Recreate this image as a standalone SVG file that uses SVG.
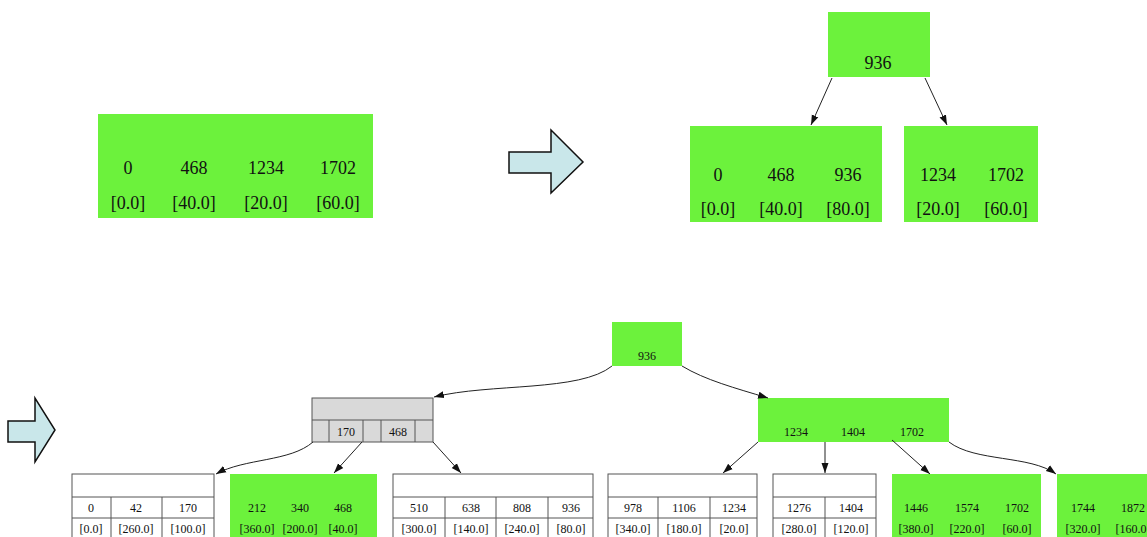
<svg xmlns="http://www.w3.org/2000/svg" width="1147" height="537" viewBox="0 0 1147 537">
<style>
  .g { fill: #6cf23c; stroke: none; }
  .w { fill: #ffffff; stroke: #555555; stroke-width: 1; }
  .gr { fill: #d9d9d9; stroke: #555555; stroke-width: 1; }
  .big { font-family: "Liberation Serif", serif; font-size: 18px; fill: #111; text-anchor: middle; }
  .sm { font-family: "Liberation Serif", serif; font-size: 12px; fill: #111; text-anchor: middle; }
  .edge { fill: none; stroke: #222; stroke-width: 1; }
  .bigarrow { fill: #c9e7ea; stroke: #111; stroke-width: 1.5; }
</style>
<defs>
  <marker id="ah" viewBox="0 0 10 10" refX="10" refY="5" markerWidth="10" markerHeight="10" markerUnits="userSpaceOnUse" orient="auto">
    <path d="M0,1.5 L10,5 L0,8.5 Z" fill="#111"/>
  </marker>
</defs>
<rect width="1147" height="537" fill="#ffffff"/>

<!-- big arrows -->
<g id="bigarrow1">
  <polygon class="bigarrow" points="509,152 551,152 551,130 583,162 551,193 551,173 509,173"/>
</g>
<g id="bigarrow2">
  <polygon class="bigarrow" points="8,421 35,421 35,398 55,430 35,462 35,442 8,442"/>
</g>

<!-- top-left node -->
<g id="n_top_single">
  <rect class="g" x="98" y="114" width="275" height="104"/>
  <text class="big" x="128" y="174">0</text>
  <text class="big" x="194" y="174">468</text>
  <text class="big" x="266" y="174">1234</text>
  <text class="big" x="338" y="174">1702</text>
  <text class="big" x="128" y="209">[0.0]</text>
  <text class="big" x="194" y="209">[40.0]</text>
  <text class="big" x="266" y="209">[20.0]</text>
  <text class="big" x="338" y="209">[60.0]</text>
</g>

<!-- top right tree -->
<g id="n_top_root">
  <rect class="g" x="828" y="12" width="102" height="65"/>
  <text class="big" x="878" y="69">936</text>
</g>
<g id="n_top_left">
  <rect class="g" x="690" y="126" width="192" height="96"/>
  <text class="big" x="718" y="181">0</text>
  <text class="big" x="781" y="181">468</text>
  <text class="big" x="848" y="181">936</text>
  <text class="big" x="718" y="215">[0.0]</text>
  <text class="big" x="781" y="215">[40.0]</text>
  <text class="big" x="848" y="215">[80.0]</text>
</g>
<g id="n_top_right">
  <rect class="g" x="904" y="126" width="134" height="96"/>
  <text class="big" x="938" y="181">1234</text>
  <text class="big" x="1006" y="181">1702</text>
  <text class="big" x="938" y="215">[20.0]</text>
  <text class="big" x="1006" y="215">[60.0]</text>
</g>

<!-- bottom tree nodes -->
<g id="n_root">
  <rect class="g" x="612" y="322" width="70" height="44"/>
  <text class="sm" x="647" y="360">936</text>
</g>
<g id="n_gray">
  <rect class="gr" x="312" y="398" width="121" height="44"/>
  <line class="gr" x1="312" y1="420" x2="433" y2="420"/>
  <line class="gr" x1="329" y1="420" x2="329" y2="442"/>
  <line class="gr" x1="363" y1="420" x2="363" y2="442"/>
  <line class="gr" x1="381" y1="420" x2="381" y2="442"/>
  <line class="gr" x1="415" y1="420" x2="415" y2="442"/>
  <text class="sm" x="346" y="436">170</text>
  <text class="sm" x="398" y="436">468</text>
</g>
<g id="n_right">
  <rect class="g" x="758" y="398" width="191" height="44"/>
  <text class="sm" x="796" y="436">1234</text>
  <text class="sm" x="853" y="436">1404</text>
  <text class="sm" x="912" y="436">1702</text>
</g>

<!-- leaves -->
<g id="leaf1">
  <rect class="w" x="72" y="474" width="142" height="75"/>
  <line class="w" x1="72" y1="497" x2="214" y2="497"/>
  <line class="w" x1="72" y1="518" x2="214" y2="518"/>
  <line class="w" x1="111" y1="497" x2="111" y2="549"/>
  <line class="w" x1="162" y1="497" x2="162" y2="549"/>
  <text class="sm" x="91" y="512">0</text>
  <text class="sm" x="136" y="512">42</text>
  <text class="sm" x="188" y="512">170</text>
  <text class="sm" x="91" y="533">[0.0]</text>
  <text class="sm" x="136" y="533">[260.0]</text>
  <text class="sm" x="188" y="533">[100.0]</text>
</g>
<g id="leaf2">
  <rect class="g" x="230" y="474" width="147" height="75"/>
  <text class="sm" x="257" y="512">212</text>
  <text class="sm" x="300" y="512">340</text>
  <text class="sm" x="343" y="512">468</text>
  <text class="sm" x="257" y="533">[360.0]</text>
  <text class="sm" x="300" y="533">[200.0]</text>
  <text class="sm" x="343" y="533">[40.0]</text>
</g>
<g id="leaf3">
  <rect class="w" x="393" y="474" width="200" height="75"/>
  <line class="w" x1="393" y1="497" x2="593" y2="497"/>
  <line class="w" x1="393" y1="518" x2="593" y2="518"/>
  <line class="w" x1="445" y1="497" x2="445" y2="549"/>
  <line class="w" x1="496" y1="497" x2="496" y2="549"/>
  <line class="w" x1="548" y1="497" x2="548" y2="549"/>
  <text class="sm" x="419" y="512">510</text>
  <text class="sm" x="471" y="512">638</text>
  <text class="sm" x="522" y="512">808</text>
  <text class="sm" x="571" y="512">936</text>
  <text class="sm" x="419" y="533">[300.0]</text>
  <text class="sm" x="471" y="533">[140.0]</text>
  <text class="sm" x="522" y="533">[240.0]</text>
  <text class="sm" x="571" y="533">[80.0]</text>
</g>
<g id="leaf4">
  <rect class="w" x="608" y="474" width="149" height="75"/>
  <line class="w" x1="608" y1="497" x2="757" y2="497"/>
  <line class="w" x1="608" y1="518" x2="757" y2="518"/>
  <line class="w" x1="658" y1="497" x2="658" y2="549"/>
  <line class="w" x1="710" y1="497" x2="710" y2="549"/>
  <text class="sm" x="633" y="512">978</text>
  <text class="sm" x="684" y="512">1106</text>
  <text class="sm" x="734" y="512">1234</text>
  <text class="sm" x="633" y="533">[340.0]</text>
  <text class="sm" x="684" y="533">[180.0]</text>
  <text class="sm" x="734" y="533">[20.0]</text>
</g>
<g id="leaf5">
  <rect class="w" x="773" y="474" width="103" height="75"/>
  <line class="w" x1="773" y1="497" x2="876" y2="497"/>
  <line class="w" x1="773" y1="518" x2="876" y2="518"/>
  <line class="w" x1="825" y1="497" x2="825" y2="549"/>
  <text class="sm" x="799" y="512">1276</text>
  <text class="sm" x="851" y="512">1404</text>
  <text class="sm" x="799" y="533">[280.0]</text>
  <text class="sm" x="851" y="533">[120.0]</text>
</g>
<g id="leaf6">
  <rect class="g" x="892" y="474" width="149" height="75"/>
  <text class="sm" x="916" y="512">1446</text>
  <text class="sm" x="967" y="512">1574</text>
  <text class="sm" x="1017" y="512">1702</text>
  <text class="sm" x="916" y="533">[380.0]</text>
  <text class="sm" x="967" y="533">[220.0]</text>
  <text class="sm" x="1017" y="533">[60.0]</text>
</g>
<g id="leaf7">
  <rect class="g" x="1057" y="474" width="110" height="75"/>
  <text class="sm" x="1083" y="512">1744</text>
  <text class="sm" x="1133" y="512">1872</text>
  <text class="sm" x="1083" y="533">[320.0]</text>
  <text class="sm" x="1133" y="533">[160.0]</text>
</g>

<!-- connectors -->
<g id="connectors">
  <line class="edge" x1="832" y1="78" x2="811" y2="125" marker-end="url(#ah)"/>
  <line class="edge" x1="925" y1="78" x2="947" y2="125" marker-end="url(#ah)"/>
  <path class="edge" d="M612,366 C580,392 490,383 434,397" marker-end="url(#ah)"/>
  <path class="edge" d="M682,366 C705,380 735,388 768,398" marker-end="url(#ah)"/>
  <path class="edge" d="M313,442 C290,462 245,458 216,474" marker-end="url(#ah)"/>
  <line class="edge" x1="362" y1="442" x2="334" y2="473" marker-end="url(#ah)"/>
  <line class="edge" x1="433" y1="442" x2="461" y2="473" marker-end="url(#ah)"/>
  <line class="edge" x1="758" y1="442" x2="723" y2="473" marker-end="url(#ah)"/>
  <line class="edge" x1="825" y1="442" x2="825" y2="473" marker-end="url(#ah)"/>
  <line class="edge" x1="892" y1="440" x2="930" y2="474" marker-end="url(#ah)"/>
  <path class="edge" d="M949,442 C975,462 1030,455 1056,474" marker-end="url(#ah)"/>
</g>
</svg>
